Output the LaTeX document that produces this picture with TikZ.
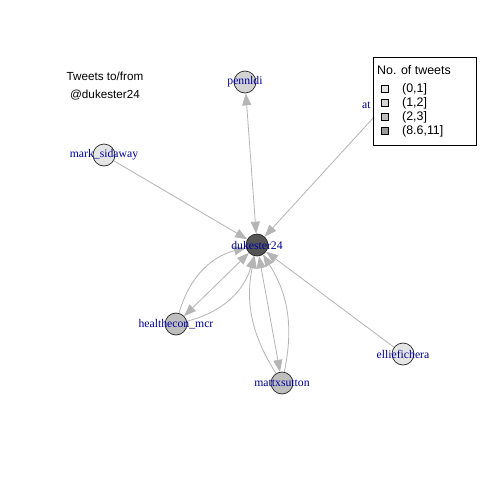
\documentclass[tikz,border=0pt]{standalone}
\usepackage{fontspec}
\setmainfont{Liberation Serif}
\setsansfont{Liberation Sans}
\usetikzlibrary{arrows.meta}
\definecolor{edgegray}{HTML}{B5B5B5}
\definecolor{labelblue}{HTML}{0000A0}
\definecolor{c01}{HTML}{E5E5E5}
\definecolor{c12}{HTML}{D3D3D3}
\definecolor{c23}{HTML}{BEBEBE}
\definecolor{c811}{HTML}{555555}
\definecolor{lg811}{HTML}{9A9A9A}
\tikzset{
  vert/.style={circle, draw=black!85, line width=0.7pt, minimum size=22pt, inner sep=0pt},
  vlabel/.style={text=labelblue, font=\fontsize{11.7}{13}\selectfont, inner sep=0pt},
  tw/.style={draw=edgegray, line width=0.8pt, -{Triangle[length=12pt,width=9pt,fill=edgegray]}},
  twboth/.style={draw=edgegray, line width=0.8pt, {Triangle[length=12pt,width=9pt,fill=edgegray]}-{Triangle[length=12pt,width=9pt,fill=edgegray]}},
  sanstxt/.style={font=\sffamily\fontsize{11.7}{18}\selectfont, inner sep=0pt},
  legtxt/.style={font=\sffamily\fontsize{12.4}{14}\selectfont, inner sep=0pt, anchor=west},
  legsq/.style={draw=black, line width=0.5pt, minimum size=7pt, inner sep=0pt},
}
\begin{document}
\begin{tikzpicture}[x=1pt,y=-1pt]
\useasboundingbox (0,0) rectangle (480,480);
\fill[white] (0,0) rectangle (480,480);
% vertices
\node[vert, fill=c811] (duk) at (257,245) {};
\node[vert, fill=c12] (pen) at (245,82) {};
\node[vert, fill=c01] (mark) at (104,155) {};
\node[vert, fill=c01] (at) at (385,105) {};
\node[vert, fill=c23] (hea) at (176,324) {};
\node[vert, fill=c23] (mat) at (282,383) {};
\node[vert, fill=c01] (ell) at (403,354) {};
% edges
\draw[twboth] (pen) -- (duk);
\draw[tw] (mark) -- (duk);
\draw[tw] (at) -- (duk);
\draw[tw] (ell) -- (duk);
\draw[twboth] (hea) -- (duk);
\draw[tw] (hea) to[bend left=30] (duk);
\draw[tw] (hea) to[bend right=30] (duk);
\draw[twboth] (mat) -- (duk);
\draw[tw] (mat) to[bend left=22] (duk);
\draw[tw] (mat) to[bend right=22] (duk);
% labels
\node[vlabel] (lduk) at (257,245) {dukester24};
\node[vlabel] (lpen) at (245,82) {pennldi};
\node[vlabel] (lmark) at (104,155) {mark\_sidaway};
\node[vlabel, anchor=west] (lat) at (362,105) {at};
\node[vlabel] (lhea) at (176,324) {healthecon\_mcr};
\node[vlabel] (lmat) at (282,383) {mattxsutton};
\node[vlabel] (lell) at (403,354) {elliefichera};
% title
\node[sanstxt, align=center] (title) at (105,86) {Tweets to/from\\@dukester24};
% legend
\node[draw=black, line width=0.6pt, fill=white, minimum width=103pt, minimum height=88pt, inner sep=0pt] (legend) at (424.5,101) {};
\node[legtxt] (legtitle) at (377,70) {No. of tweets};
\node[legsq, fill=c01] (sq1) at (385,89) {};
\node[legsq, fill=c12] (sq2) at (385,103) {};
\node[legsq, fill=c23] (sq3) at (385,117) {};
\node[legsq, fill=lg811] (sq4) at (385,131) {};
\node[legtxt] (lt1) at (402,89) {(0,1]};
\node[legtxt] (lt2) at (402,103) {(1,2]};
\node[legtxt] (lt3) at (402,117) {(2,3]};
\node[legtxt] (lt4) at (402,131) {(8.6,11]};
\end{tikzpicture}
\end{document}
